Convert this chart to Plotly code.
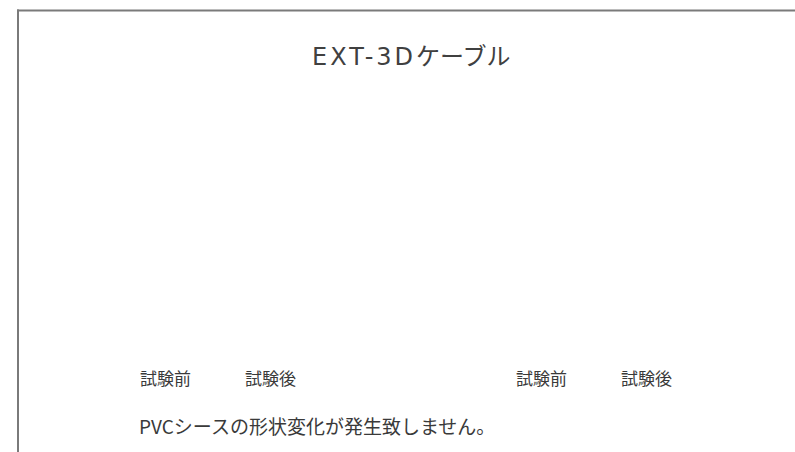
import plotly.graph_objects as go

title_latin = "EXT-3D"
title_kana = "ケーブル"
stage_labels = ["試験前", "試験後", "試験前", "試験後"]
note_text = "PVCシースの形状変化が発生致しません。"

W, H = 795, 452
FONT = "Noto Sans CJK JP"
TITLE_FONT = "DejaVu Sans, Noto Sans CJK JP"

def px(x):
    return x / W

def py(y):
    return 1 - y / H

fig = go.Figure()

title_html = f"<span style='letter-spacing:3px'>{title_latin}</span>{title_kana}"

label_centers = [165, 270, 541, 646]
annotations = [
    dict(text=title_html, x=px(411), y=py(57), xref="paper", yref="paper",
         showarrow=False, xanchor="center", yanchor="middle",
         font=dict(family=TITLE_FONT, size=24, color="#404040")),
    dict(text=note_text, x=px(137), y=py(425), xref="paper", yref="paper",
         showarrow=False, xanchor="left", yanchor="middle",
         font=dict(family=FONT, size=19, color="#3a3a3a")),
]
for lab, cx in zip(stage_labels, label_centers):
    annotations.append(dict(text=lab, x=px(cx), y=py(377.5), xref="paper", yref="paper",
                            showarrow=False, xanchor="center", yanchor="middle",
                            font=dict(family=FONT, size=17, color="#3a3a3a")))

shapes = [
    dict(type="line", xref="paper", yref="paper", x0=px(17), x1=1.01, y0=py(10.5), y1=py(10.5),
         line=dict(color="#7a7a7a", width=2)),
    dict(type="line", xref="paper", yref="paper", x0=px(18), x1=px(18), y0=py(9.5), y1=-0.01,
         line=dict(color="#7a7a7a", width=2)),
]

fig.update_layout(
    width=W, height=H,
    margin=dict(l=0, r=0, t=0, b=0),
    paper_bgcolor="white", plot_bgcolor="white",
    xaxis=dict(visible=False, range=[0, 1]),
    yaxis=dict(visible=False, range=[0, 1]),
    annotations=annotations,
    shapes=shapes,
    showlegend=False,
)

fig.write_html("out.html",
               config={"displayModeBar": False},
               post_script="document.body.style.margin='0';document.body.style.padding='0';")
